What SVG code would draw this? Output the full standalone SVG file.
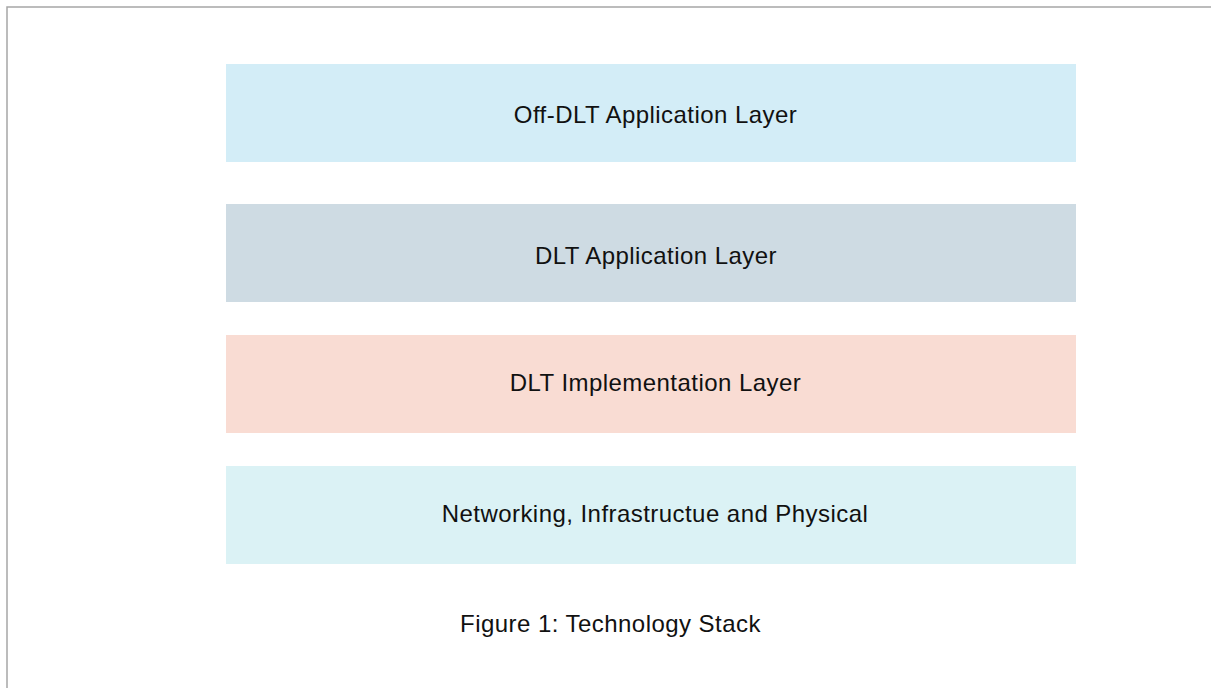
<svg xmlns="http://www.w3.org/2000/svg" width="1211" height="688" viewBox="0 0 1211 688">
<style>
.lbl{font-family:"Liberation Sans",Arial,sans-serif;font-size:24px;letter-spacing:0.45px;fill:#111;text-anchor:middle}
</style>
<rect x="0" y="0" width="1211" height="688" fill="#fff"/>
<rect x="7" y="7" width="1220" height="700" fill="none" stroke="#a6a6a6" stroke-width="1.5"/>
<g id="off-dlt"><rect x="226" y="64" width="850" height="98" fill="#d3edf7"/><text class="lbl" x="655.5" y="123">Off-DLT Application Layer</text></g>
<g id="dlt-app"><rect x="226" y="204" width="850" height="98" fill="#cedbe3"/><text class="lbl" x="656" y="264">DLT Application Layer</text></g>
<g id="dlt-impl"><rect x="226" y="335" width="850" height="98" fill="#f9dcd3"/><text class="lbl" x="655.5" y="391">DLT Implementation Layer</text></g>
<g id="network"><rect x="226" y="466" width="850" height="98" fill="#dbf2f5"/><text class="lbl" x="655" y="522">Networking, Infrastructue and Physical</text></g>
<g id="caption"><text class="lbl" x="610.5" y="632">Figure 1: Technology Stack</text></g>
<g id="connectors"></g>
</svg>
